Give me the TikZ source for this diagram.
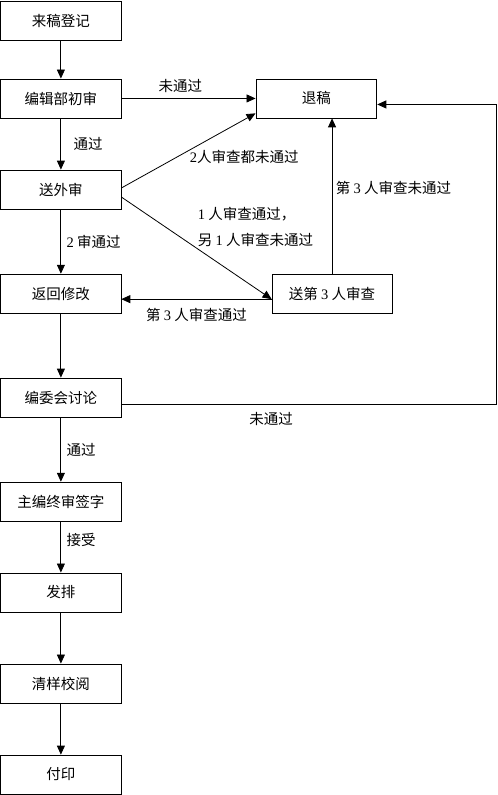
\documentclass[tikz,border=0pt]{standalone}
\usepackage{fontspec}
\setmainfont{Noto Sans CJK SC}
\newfontfamily\numfont{Liberation Serif}
\usetikzlibrary{arrows.meta}

\begin{document}
\begin{tikzpicture}[
    every node/.style={font=\fontsize{14.5}{16}\selectfont, align=center},
    box/.style={rectangle, draw=black, line width=0.8pt,
                minimum width=4.22cm, minimum height=1.37cm, inner sep=0pt},
    arr/.style={-{Triangle[length=9pt, width=8pt]}, line width=0.8pt},
]
\useasboundingbox (0,0) rectangle (17.47,-27.94);
\node[box] (ljdj) at (2.14, -0.72)  {来稿登记};
\node[box] (bjb)  at (2.14, -3.46)  {编辑部初审};
\node[box] (swh)  at (2.14, -6.66)  {送外审};
\node[box] (fh)   at (2.14, -10.32) {返回修改};
\node[box] (bw)   at (2.14, -13.97) {编委会讨论};
\node[box] (zb)   at (2.14, -17.63) {主编终审签字};
\node[box] (fp)   at (2.14, -20.82) {发排};
\node[box] (qy)   at (2.14, -24.02) {清样校阅};
\node[box] (fy)   at (2.14, -27.22) {付印};
\node[box, minimum width=4.25cm] (tg) at (11.12, -3.46) {退稿};
\node[box] (s3)   at (11.67, -10.32) {送第 {\numfont 3} 人审查};
\coordinate (rt) at (17.43, 0);
\draw[arr] (ljdj) -- (bjb);
\draw[arr] (bjb) -- node[above, xshift=-8pt, yshift=2pt]{未通过} (tg);
\draw[arr] (bjb) -- node[right, xshift=9pt]{通过} (swh);
\draw[arr] ([yshift=1.5pt]swh.east) -- node[pos=0.5, anchor=west, inner sep=1pt, yshift=-6.5pt]{{\numfont 2}人审查都未通过} ([yshift=5pt]tg.south west);
\draw[arr] ([yshift=-7.5pt]swh.east) -- node[pos=0.5, anchor=south west, inner sep=1pt, align=left, font=\fontsize{14.5}{26}\selectfont]{{\numfont 1} 人审查通过，\\另 {\numfont 1} 人审查未通过} ([yshift=-5.5pt]s3.west);
\draw[arr] (swh) -- node[right, xshift=2pt]{{\numfont 2} 审通过} (fh);
\draw[arr] ([yshift=-5.5pt]s3.west) -- node[below, yshift=-5pt]{第 {\numfont 3} 人审查通过} ([yshift=-5.5pt]fh.east);
\draw[arr] (s3.north) -- node[right, pos=0.55]{第 {\numfont 3} 人审查未通过} (s3.north |- tg.south);
\draw[arr] (fh) -- (bw);
\draw[arr] ([yshift=-6.5pt]bw.east) -- node[below, pos=0.4, yshift=-5pt]{未通过} ([yshift=-6.5pt]bw.east -| rt) |- ([yshift=-6pt]tg.east);
\draw[arr] (bw) -- node[right, xshift=2pt]{通过} (zb);
\draw[arr] (zb) -- node[right, pos=0.37, xshift=2pt]{接受} (fp);
\draw[arr] (fp) -- (qy);
\draw[arr] (qy) -- (fy);
\end{tikzpicture}
\end{document}
